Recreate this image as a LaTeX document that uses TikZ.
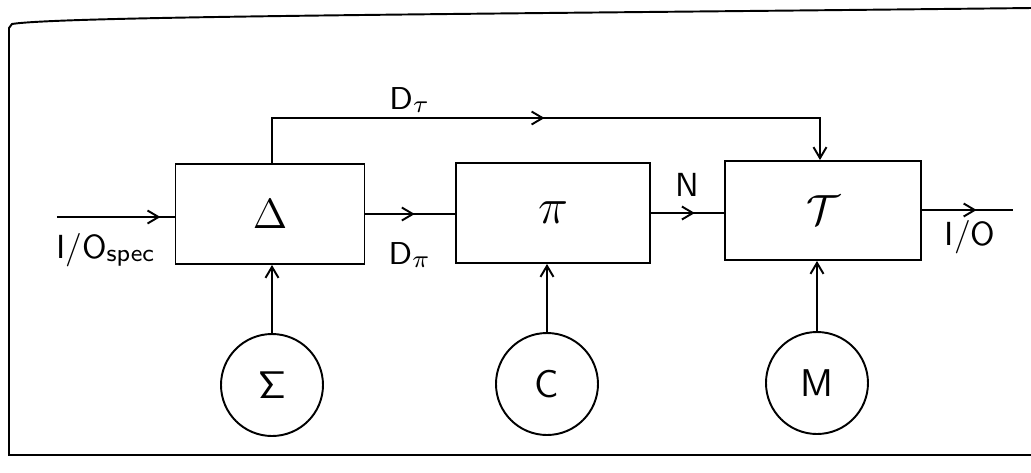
\documentclass[tikz,border=0pt]{standalone}
\usetikzlibrary{arrows.meta,decorations.markings,shapes.geometric}
\begin{document}
\begin{tikzpicture}[x=0.1mm,y=-0.1mm,
  line width=0.55pt,
  tip/.tip={Straight Barb[length=1.1mm,width=1.3mm,line width=0.55pt]},
  blk/.style={draw,rectangle,inner sep=0pt},
  src/.style={draw,ellipse,minimum width=10.2mm,minimum height=10.2mm,inner sep=0pt},
  midarrow/.style={postaction={decorate},decoration={markings,mark=at position #1 with {\arrow{tip}}}},
  lbl/.style={font=\sffamily\fontsize{9.5}{11}\selectfont}
]
\useasboundingbox (0,0) rectangle (1031,472);
% frame
\draw (1031,8) .. controls (500,14) and (60,16) .. (12,24) -- (9,28) -- (9,455) -- (1031,455);
% blocks
\node[blk,minimum width=18.9mm,minimum height=10mm] (D) at (270,214) {\fontsize{12}{14}\selectfont$\Delta$};
\node[blk,minimum width=19.4mm,minimum height=10mm] (P) at (553,213) {\fontsize{15}{17}\selectfont$\pi$};
\node[blk,minimum width=19.6mm,minimum height=9.9mm] (T) at (823,210.5) {\fontsize{12}{14}\selectfont$\mathcal{T}$};
% sources
\node[src] (S) at (272,385) {\fontsize{11}{13}\selectfont$\mathsf{\Sigma}$};
\node[src] (C) at (547,384) {\fontsize{11}{13}\selectfont\sffamily C};
\node[src] (M) at (817,383) {\fontsize{11}{13}\selectfont\sffamily M};
% coordinates
\coordinate (in) at (57,217);
\coordinate (out) at (1013,210);
\coordinate (up1) at (272,118);
\coordinate (up2) at (820,118);
% connectors
\draw[midarrow=0.88] (in) -- (in -| D.west);
\draw[midarrow=0.55] (D.east |- 0,214) -- (P.west |- 0,214);
\draw[midarrow=0.6] (P.east |- 0,213) -- (T.west |- 0,213);
\draw[midarrow=0.6] (T.east |- 0,210) -- (out);
\draw[midarrow=0.5,-{tip}] (D.north -| up1) -- (up1) -- (up2) -- (T.north -| up2);
\draw[-{tip}] (S.north) -- (S.north |- D.south);
\draw[-{tip}] (C.north) -- (C.north |- P.south);
\draw[-{tip}] (M.north) -- (M.north |- T.south);
% labels
\node[lbl] (l1) at (106,250) {I/O$_{\mathsf{spec}}$};
\node[lbl] (l2) at (410,100) {$\mathsf{D}_\tau$};
\node[lbl] (l3) at (410,255) {$\mathsf{D}_\pi$};
\node[lbl] (l4) at (687,185) {N};
\node[lbl] (l5) at (970,237) {I/O};
\end{tikzpicture}
\end{document}
